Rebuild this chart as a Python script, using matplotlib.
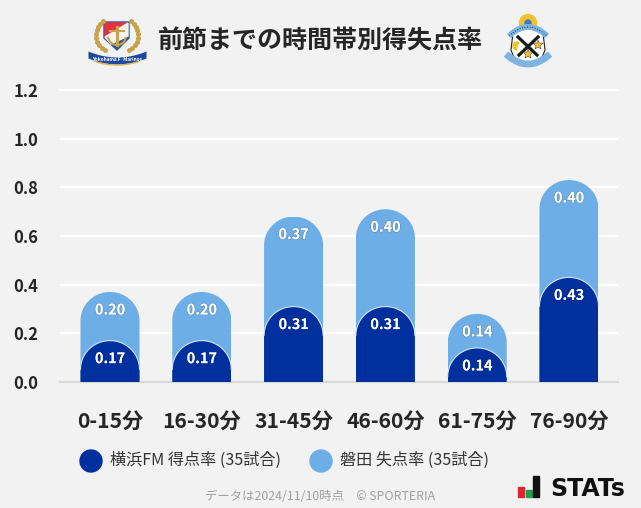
import matplotlib
matplotlib.use('Agg')
import matplotlib.pyplot as plt
import matplotlib.patheffects as pe
import numpy as np
from matplotlib.path import Path
from matplotlib.patches import Circle, Polygon, Rectangle, Wedge

plt.rcParams['font.family'] = ['Noto Sans CJK JP', 'DejaVu Sans']

categories = ['0-15分', '16-30分', '31-45分', '46-60分', '61-75分', '76-90分']
scored = [0.17, 0.17, 0.31, 0.31, 0.14, 0.43]
conceded = [0.20, 0.20, 0.37, 0.40, 0.14, 0.40]
y_ticks = [0.0, 0.2, 0.4, 0.6, 0.8, 1.0, 1.2]

title = '前節までの時間帯別得失点率'
legend_home = '横浜FM 得点率 (35試合)'
legend_away = '磐田 失点率 (35試合)'
footer = 'データは2024/11/10時点　© SPORTERIA'

NAVY = '#00309e'
SKY = '#6daee6'
BG = '#f2f2f2'
W, H = 641, 508

fig = plt.figure(figsize=(W / 100, H / 100), dpi=100, facecolor=BG)
ax = fig.add_axes([60 / W, 1 - 382 / H, 558 / W, 292 / H], facecolor=BG)

x = np.arange(len(categories))
width = 0.643
ry = 0.118  # height of the rounded top, in data units


def dome(xc, top):
    # outline of a bar with an elliptic top
    t = np.linspace(np.pi, 0, 40)
    xs = xc + width / 2 * np.cos(t)
    ys = top - ry + ry * np.sin(t)
    return xs, ys


def clip_round(bar, xc, top):
    xs, ys = dome(xc, top)
    verts = [(xc - width / 2, 0)] + list(zip(xs, ys)) + [(xc + width / 2, 0), (xc - width / 2, 0)]
    bar.set_clip_path(Path(verts), transform=ax.transData)


stack = np.array(scored) + np.array(conceded)
top_bars = ax.bar(x, conceded, width, bottom=scored, color=SKY, zorder=3)
low_bars = ax.bar(x, scored, width, color=NAVY, zorder=4)
# the light bar runs down behind the dark dome
under_bars = ax.bar(x, scored, width, color=SKY, zorder=2.5)

for i in range(len(x)):
    clip_round(top_bars[i], x[i], stack[i])
    clip_round(under_bars[i], x[i], stack[i])
    clip_round(low_bars[i], x[i], scored[i])
    xs, ys = dome(x[i], scored[i])
    ax.plot(xs, ys, color='#d5e6f7', lw=0.8, zorder=5)

label_drop = 0.076
for i in range(len(x)):
    for val, top in ((scored[i], scored[i]), (conceded[i], stack[i])):
        ax.text(x[i], top - label_drop, f'{val:.2f}', color='white', fontsize=10.4, fontweight='bold',
                ha='center', va='center', zorder=6,
                path_effects=[pe.withStroke(linewidth=0.8, foreground=(0, 0, 0, 0.2))])

ax.set_xlim(-0.5447, 5.534)
ax.set_ylim(0, 1.2)
ax.set_xticks(x, categories, fontsize=15.2, fontweight='bold', color='#262626')
ax.set_yticks(y_ticks, [f'{v:.1f}' for v in y_ticks], fontsize=12, fontweight='bold', color='#262626')
ax.tick_params(axis='both', length=0)
ax.tick_params(axis='x', pad=20.5)
ax.tick_params(axis='y', pad=15.5)
ax.grid(axis='y', color='white', lw=1.6, zorder=1)
ax.set_axisbelow(True)
for name in ['right', 'left']:
    ax.spines[name].set_visible(False)
ax.spines['bottom'].set_color('#d9d9d9')
ax.spines['bottom'].set_linewidth(1.6)
ax.spines['top'].set_color('white')
ax.spines['top'].set_linewidth(1.6)

# overlay in image pixels for title, legend, logos
ov = fig.add_axes([0, 0, 1, 1], facecolor='none')
ov.set_xlim(0, W)
ov.set_ylim(H, 0)
ov.axis('off')

ov.text(320.5, 41, title, fontsize=18, fontweight='bold', color='#262626', ha='center', va='center')

ov.add_patch(Circle((91, 461), 11, color=NAVY))
ov.text(110, 460.5, legend_home, fontsize=11.6, color='#333333', va='center')
ov.add_patch(Circle((321, 461), 11, color=SKY))
ov.text(340, 460.5, legend_away, fontsize=11.6, color='#333333', va='center')
ov.text(320.5, 497, footer, fontsize=8.9, color='#a0a0a0', ha='center', va='center')

# STATs mark
ov.add_patch(Rectangle((518, 487), 6, 9.5, color='#d9282f'))
ov.add_patch(Rectangle((526, 490), 6, 6.5, color='#1f9e4d'))
ov.add_patch(Rectangle((533, 476), 6, 20.5, color='#111111'))
ov.text(550, 496.5, 'STATs', fontsize=17, fontweight='bold', family='DejaVu Sans', color='#111111',
        va='baseline')

# Marinos crest
for side in (-1, 1):
    t = np.linspace(-0.95, 0.85, 10)
    ov.plot(117 + side * 21 * np.cos(t), 35 - 19 * np.sin(t), ls='none', marker='o', ms=2.6, color='#c9a24a')
ov.add_patch(Polygon([(104, 22), (129, 22), (129, 38), (117, 50), (104, 38)], color='#2a57a5'))
ov.add_patch(Polygon([(105, 23), (128, 23), (105, 39)], color='#e23340'))
ov.add_patch(Polygon([(128, 23), (128, 36), (111, 44), (105, 37)], color='#f4f4f4'))
ov.plot([117, 117], [27, 45], color='#c9a24a', lw=2.2)
ov.plot([110, 124], [31, 31], color='#c9a24a', lw=1.5)
t = np.linspace(0.2, np.pi - 0.2, 12)
ov.plot(117 + 9 * np.cos(t), 36 + 9 * np.sin(t), color='#c9a24a', lw=1.5)
ban_x = np.linspace(88, 146, 25)
ban_y = 51 + 6 * (1 - ((ban_x - 117) / 29) ** 2)
ov.fill_between(ban_x, ban_y, ban_y + 7, color='#1d4a9b', lw=0)
ov.plot(ban_x[3:-3], ban_y[3:-3] + 8, color='#d9b45c', lw=1)
ov.text(117, 59.5, 'Yokohama F·Marinos', fontsize=3.4, color='white', ha='center', va='center', fontweight='bold')

# Jubilo crest
ov.add_patch(Circle((528, 23), 8.5, color='#f0c22e'))
ov.add_patch(Circle((528, 23), 3, color='#3e7cc0'))
ov.add_patch(Polygon([(513, 33), (528, 28), (543, 33), (545, 50), (541, 60), (528, 65), (515, 60), (511, 50)],
                     color='white', ec='#222222', lw=0.8))
arc_x = np.linspace(509, 547, 25)
ov.plot(arc_x, 36 - 9 * (1 - ((arc_x - 528) / 19) ** 2), color='#7fb4de', lw=4.2, solid_capstyle='butt')
ov.plot(arc_x, 36 - 9 * (1 - ((arc_x - 528) / 19) ** 2), color='#1a2d5c', lw=0.7, ls=':')
arc_x = np.linspace(506, 550, 25)
ov.plot(arc_x, 54 + 10 * (1 - ((arc_x - 528) / 22) ** 2), color='#7fb4de', lw=5, solid_capstyle='butt')
ov.plot([518, 537], [37, 55], color='#1a1a1a', lw=2.3)
ov.plot([538, 519], [37, 55], color='#1a1a1a', lw=2.3)
ov.add_patch(Wedge((517, 46), 4, 100, 300, color='#f0c22e'))
ov.plot(538, 45, marker='*', ms=7, color='#f0c22e', mec='#222222', mew=0.3)
ov.plot(528, 54, marker='*', ms=7, color='#f0c22e', mec='#222222', mew=0.3)

fig.savefig('out.png', dpi=100, facecolor=BG)
